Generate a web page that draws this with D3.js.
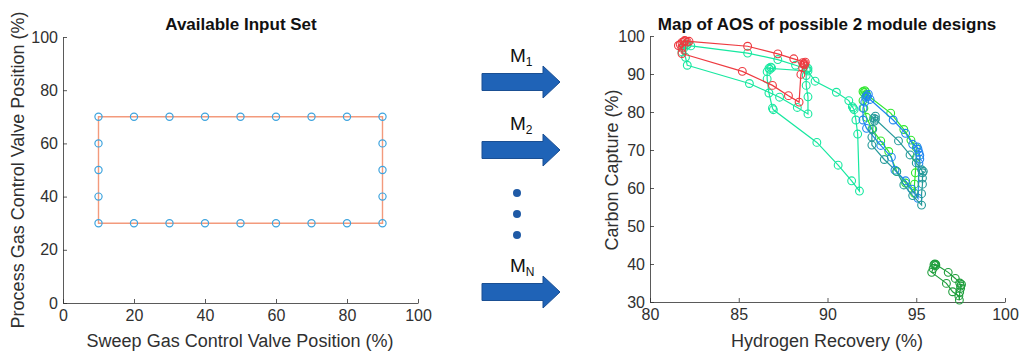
<!DOCTYPE html>
<html>
<head>
<meta charset="utf-8">
<script src="https://cdn.jsdelivr.net/npm/d3@7"></script>
<style>
  body { margin: 0; background: #fff; }
  svg { display: block; font-family: "Liberation Sans", Arial, sans-serif; }
  .tick text { fill: #303030; font-size: 16px; }
  .domain, .tick line { stroke: #303030; stroke-width: 0.8; }
</style>
</head>
<body>
<div id="chart"></div>
<script>
// ---- left panel: available input set (sweep %, process %) ----
const sweepPos   = [10, 20, 30, 40, 50, 60, 70, 80, 90, 90, 90, 90, 90, 80, 70, 60, 50, 40, 30, 20, 10, 10, 10, 10];
const processPos = [30, 30, 30, 30, 30, 30, 30, 30, 30, 40, 50, 60, 70, 70, 70, 70, 70, 70, 70, 70, 70, 60, 50, 40];
const leftTicks  = [0, 20, 40, 60, 80, 100];

// ---- right panel: AOS of each 2-module design [H2 recovery %, carbon capture %] ----
const aosSpringA = [[82.1, 92.3], [85.6, 87.5], [87.3, 83.9], [88.3, 81.2], [88.9, 79.5], [88.9, 84.0], [88.8, 87.0], [88.8, 89.6],
  [88.8, 91.1], [88.9, 91.5], [88.85, 91.3], [88.2, 92.3], [87.2, 93.8], [85.5, 95.5], [82.3, 97.4], [82.1, 97.7], [82.0, 97.9],
  [81.9, 97.5], [82.05, 97.6], [81.9, 96.8], [81.8, 95.8], [82.0, 94.4]];
const aosSpringB = [[86.7, 91.5], [86.8, 91.8], [86.75, 91.2], [86.85, 91.6], [86.6, 90.6], [86.6, 88.7], [86.7, 85.0], [86.9, 81.0],
  [86.95, 80.6], [89.4, 72.0], [90.6, 66.0], [91.36, 61.9], [91.8, 59.2], [91.7, 74.2], [91.6, 77.9],
  [91.5, 80.6], [91.45, 81.0], [91.4, 81.4], [91.2, 83.0], [90.5, 85.2], [89.3, 88.1], [88.9, 90.8]];
const aosLime = [[92.0, 85.4], [92.1, 85.6], [92.05, 85.1], [92.15, 85.3], [92.2, 84.6], [93.56, 79.7], [94.3, 75.4], [94.7, 72.6],
  [95.0, 70.6], [95.0, 68.0], [94.95, 64.0], [94.9, 61.0], [94.9, 58.6], [94.4, 61.3], [93.9, 64.4], [93.45, 69.6], [93.0, 72.4],
  [92.5, 75.5], [92.2, 78.6], [92.05, 81.0], [92.0, 83.0]];
const aosBlue = [[92.2, 84.3], [92.3, 84.7], [92.15, 83.9], [92.25, 84.0], [92.4, 83.3], [93.7, 77.9], [94.4, 74.4], [94.8, 71.5],
  [95.05, 70.8], [95.1, 70.2], [95.15, 69.4], [95.2, 68.6], [95.2, 67.6], [95.15, 66.5], [95.1, 57.3], [94.75, 59.7],
  [94.4, 61.9], [93.8, 64.7], [93.6, 68.1], [93.0, 71.2], [92.2, 75.7], [92.0, 77.9], [92.0, 81.0], [92.1, 82.6]];
const aosTeal = [[92.6, 78.4], [92.7, 78.9], [92.65, 77.6], [92.7, 78.1], [94.0, 72.4], [94.65, 68.7], [95.0, 66.6], [95.3, 64.8],
  [95.35, 64.0], [95.4, 64.4], [95.35, 62.6], [95.35, 61.0], [95.3, 58.5], [95.3, 55.5], [94.8, 58.0], [94.3, 60.8],
  [93.9, 64.3], [93.2, 67.5], [92.5, 71.3], [92.5, 73.4], [92.55, 75.5]];
const aosRed = [[81.8, 95.4], [85.2, 90.7], [86.9, 87.0], [87.8, 84.3], [88.4, 82.6], [88.5, 89.9], [88.6, 91.6], [88.7, 92.4],
  [88.6, 93.0], [88.7, 92.8], [88.65, 92.6], [88.75, 93.1], [88.1, 94.0], [87.2, 95.3], [85.5, 97.3], [82.2, 98.6], [82.0, 98.7],
  [81.9, 98.5], [82.1, 98.4], [81.95, 98.8], [81.8, 98.3], [81.7, 97.8], [81.6, 97.5], [81.8, 96.8]];
const aosDarkGreen = [[96.05, 40.0], [96.1, 39.6], [96.0, 39.8], [96.1, 39.9], [96.8, 37.8], [97.2, 36.2], [97.45, 35.0],
  [97.5, 34.2], [97.55, 34.6], [97.5, 33.6], [97.45, 32.6], [97.43, 30.5], [97.4, 31.6], [97.05, 32.7], [96.7, 34.9],
  [95.87, 37.8], [95.95, 38.8]];

const aosSeries = [aosSpringA, aosSpringB, aosLime, aosBlue, aosTeal, aosRed, aosDarkGreen];
const aosColors = ["#17e8a0", "#17e8a0", "#2ee82e", "#1f86f0", "#259a9a", "#ee3a40", "#1f9e3c"];
const rightXTicks = [80, 85, 90, 95, 100];
const rightYTicks = [30, 40, 50, 60, 70, 80, 90, 100];

const moduleLabels = ["1", "2", "N"];

const W = 1019, H = 353;
const svg = d3.select("#chart").append("svg").attr("width", W).attr("height", H);

function drawAxes(x, y, xt, yt) {
  svg.append("g")
    .attr("transform", "translate(0," + y.range()[0] + ")")
    .call(d3.axisBottom(x).tickValues(xt).tickSize(-4).tickSizeOuter(0).tickPadding(7));
  svg.append("g")
    .attr("transform", "translate(" + x.range()[0] + ",0)")
    .call(d3.axisLeft(y).tickValues(yt).tickSize(-4).tickSizeOuter(0).tickPadding(5));
}

// left chart
var xL = d3.scaleLinear().domain([0, 100]).range([63, 418]);
var yL = d3.scaleLinear().domain([0, 100]).range([303, 37]);
drawAxes(xL, yL, leftTicks, leftTicks);

var inputPts = sweepPos.map((s, i) => [s, processPos[i]]);
svg.append("path")
  .datum(inputPts)
  .attr("fill", "none")
  .attr("stroke", "#f39a7c")
  .attr("stroke-width", 1.4)
  .attr("d", d3.line().x(d => xL(d[0])).y(d => yL(d[1])).curve(d3.curveLinearClosed));
svg.selectAll("circle.inp")
  .data(inputPts)
  .enter().append("circle")
  .attr("class", "inp")
  .attr("cx", d => xL(d[0]))
  .attr("cy", d => yL(d[1]))
  .attr("r", 3.6)
  .attr("fill", "none")
  .attr("stroke", "#3fa4de")
  .attr("stroke-width", 1.2);

svg.append("text").attr("x", 241).attr("y", 30).attr("text-anchor", "middle")
  .style("font-weight", "bold").style("font-size", "17px").attr("fill", "#111")
  .text("Available Input Set");
svg.append("text").attr("x", 240).attr("y", 347).attr("text-anchor", "middle")
  .style("font-size", "18px").attr("fill", "#303030")
  .text("Sweep Gas Control Valve Position (%)");
svg.append("text").attr("transform", "translate(24,170) rotate(-90)").attr("text-anchor", "middle")
  .style("font-size", "18px").attr("fill", "#303030")
  .text("Process Gas Control Valve Position (%)");

// right chart
var xR = d3.scaleLinear().domain([80, 100]).range([650, 1005]);
var yR = d3.scaleLinear().domain([30, 100]).range([302, 36]);
drawAxes(xR, yR, rightXTicks, rightYTicks);

var line = d3.line().x(d => xR(d[0])).y(d => yR(d[1])).curve(d3.curveLinearClosed);
aosSeries.forEach(function (pts, i) {
  var g = svg.append("g");
  g.append("path").datum(pts)
    .attr("fill", "none").attr("stroke", aosColors[i]).attr("stroke-width", 1.2)
    .attr("d", line);
  g.selectAll("circle").data(pts).enter().append("circle")
    .attr("cx", d => xR(d[0])).attr("cy", d => yR(d[1])).attr("r", 3.9)
    .attr("fill", "none").attr("stroke", aosColors[i]).attr("stroke-width", 1.1);
});

svg.append("text").attr("x", 827).attr("y", 30).attr("text-anchor", "middle")
  .style("font-weight", "bold").style("font-size", "17px").attr("fill", "#111")
  .text("Map of AOS of possible 2 module designs");
svg.append("text").attr("x", 827).attr("y", 347).attr("text-anchor", "middle")
  .style("font-size", "18px").attr("fill", "#303030")
  .text("Hydrogen Recovery (%)");
svg.append("text").attr("transform", "translate(618,170) rotate(-90)").attr("text-anchor", "middle")
  .style("font-size", "18px").attr("fill", "#303030")
  .text("Carbon Capture (%)");

// arrows between panels
var arrowY = [82, 150, 292];
var labelY = [62, 130, 272];
arrowY.forEach(function (cy, i) {
  svg.append("path")
    .attr("d", "M482," + (cy - 8.5) + "H543V" + (cy - 16) + "L560," + cy + "L543," + (cy + 16) + "V" + (cy + 8.5) + "H482Z")
    .attr("fill", "#1f63b7").attr("stroke", "#1a4f93").attr("stroke-width", 1);
  var t = svg.append("text").attr("x", 510).attr("y", labelY[i]).style("font-size", "19px").attr("fill", "#111");
  t.append("tspan").text("M");
  t.append("tspan").attr("dy", 4).style("font-size", "12px").text(moduleLabels[i]);
});
[193, 214, 235].forEach(function (cy) {
  svg.append("circle").attr("cx", 517).attr("cy", cy).attr("r", 4).attr("fill", "#1f5aa6");
});
</script>
</body>
</html>
